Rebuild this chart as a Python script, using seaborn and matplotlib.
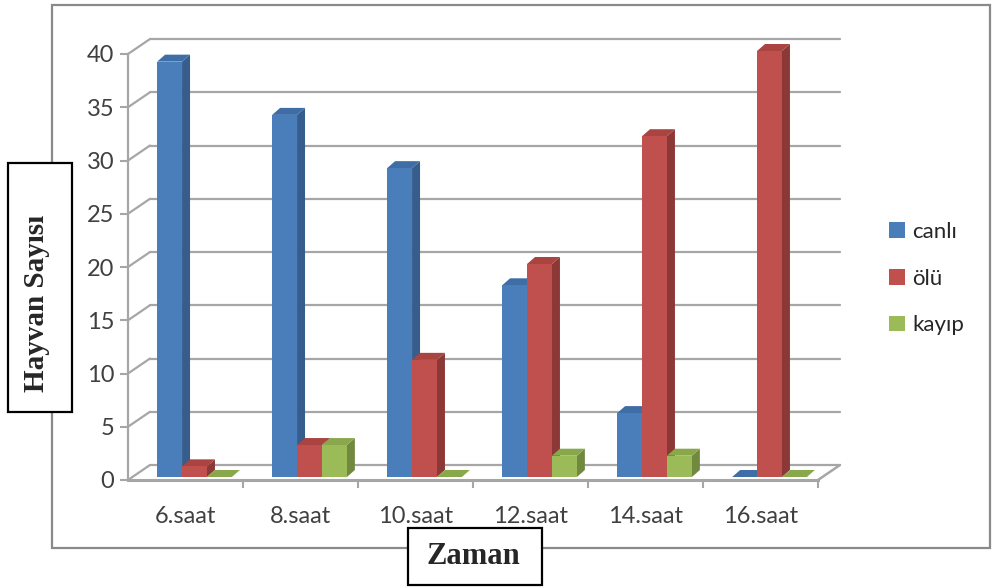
import numpy as np
import pandas as pd
import seaborn as sns
import matplotlib
matplotlib.use("Agg")
import matplotlib.pyplot as plt
from matplotlib.patches import Polygon, Rectangle
from matplotlib.lines import Line2D
from matplotlib.transforms import IdentityTransform, offset_copy
import matplotlib.colors as mcolors

# ---- data ----
zaman = ["6.saat", "8.saat", "10.saat", "12.saat", "14.saat", "16.saat"]
canli = [39, 34, 29, 18, 6, 0]
olu = [1, 3, 11, 20, 32, 40]
kayip = [0, 3, 0, 2, 2, 0]
seriler = ["canlı", "ölü", "kayıp"]
y_ticks = [0, 5, 10, 15, 20, 25, 30, 35, 40]

renkler = ["#4a7ebb", "#c0504d", "#9bbb59"]
yan_renk = ["#365d8c", "#8c3836", "#71893f"]
ust_renk = ["#3f6ea6", "#a94441", "#88a84b"]

df = pd.DataFrame({
    "Zaman": zaman * 3,
    "Sayı": canli + olu + kayip,
    "Tür": [s for s in seriler for _ in zaman],
})

sns.set_theme(style="white")
plt.rcParams["font.family"] = ["Lato", "DejaVu Sans"]

W, H = 992, 587
fig = plt.figure(figsize=(W / 100, H / 100), dpi=100)


def fx(px):
    return px / W


def fy(py):
    return 1 - py / H


ax = fig.add_axes([fx(128), fy(480), 690 / W, 426 / H])
ax.patch.set_alpha(0)
sns.barplot(data=df, x="Zaman", y="Sayı", hue="Tür", hue_order=seriler,
            order=zaman, palette=renkler, width=0.65, saturation=1,
            ax=ax, linewidth=0, edgecolor="none", errorbar=None)
ax.set_xlim(-0.5, 5.5)
ax.set_ylim(0, 40)
ax.set_xlabel("")
ax.set_ylabel("")

grid_c = "#a6a6a6"
BACK = (22, 15)   # wall depth offset in px
SHIFT = (9, 3)    # bar placement offset in px
DEPTH = (8, 7)    # bar depth in px

# back wall grid lines
tr_back = offset_copy(ax.transData, fig=fig, x=BACK[0], y=BACK[1], units="dots")
for v in y_ticks:
    ax.plot([-0.5, 5.5], [v, v], color=grid_c, lw=1.6, transform=tr_back,
            clip_on=False, zorder=0.5)
    p0 = ax.transData.transform((-0.5, v))
    p1 = p0 + np.array(BACK)
    ax.add_line(Line2D([p0[0], p1[0]], [p0[1], p1[1]], color=grid_c, lw=1.6,
                       transform=IdentityTransform(), clip_on=False, zorder=0.5))
# floor right edge
p0 = ax.transData.transform((5.5, 0))
p1 = p0 + np.array(BACK)
ax.add_line(Line2D([p0[0], p1[0]], [p0[1], p1[1]], color=grid_c, lw=1.8,
                   transform=IdentityTransform(), clip_on=False, zorder=0.6))

# bars: shift front faces, add side and top faces
tr_bar = offset_copy(ax.transData, fig=fig, x=SHIFT[0], y=SHIFT[1], units="dots")
base_cols = [np.array(mcolors.to_rgb(c)) for c in renkler]
for patch in list(ax.patches):
    fc = np.array(patch.get_facecolor()[:3])
    k = int(np.argmin([np.abs(fc - c).sum() for c in base_cols]))
    x0, w, h = patch.get_x(), patch.get_width(), patch.get_height()
    patch.set_transform(tr_bar)
    patch.set_clip_on(False)
    patch.set_zorder(2 + k + 0.2)
    s = np.array(SHIFT)
    d = np.array(DEPTH)
    br = ax.transData.transform((x0 + w, 0)) + s
    tl = ax.transData.transform((x0, h)) + s
    trr = ax.transData.transform((x0 + w, h)) + s
    side = Polygon([br, trr, trr + d, br + d], closed=True, facecolor=yan_renk[k],
                   edgecolor="none", transform=IdentityTransform(), clip_on=False,
                   zorder=2 + k + 0.1)
    top = Polygon([tl, trr, trr + d, tl + d], closed=True, facecolor=ust_renk[k],
                  edgecolor="none", transform=IdentityTransform(), clip_on=False,
                  zorder=2 + k + 0.15)
    ax.add_patch(side)
    ax.add_patch(top)

# axes styling
for sp in ["top", "right"]:
    ax.spines[sp].set_visible(False)
ax.spines["left"].set_color(grid_c)
ax.spines["left"].set_linewidth(1.6)
ax.spines["bottom"].set_color(grid_c)
ax.spines["bottom"].set_linewidth(2.2)
ax.spines["bottom"].set_zorder(1)
ax.set_yticks(y_ticks)
ax.set_yticklabels([str(v) for v in y_ticks])
ax.tick_params(axis="y", length=6, width=1.5, color=grid_c, labelsize=17,
               labelcolor="#404040", pad=4, left=True)
ax.set_xticks(range(len(zaman)))
ax.set_xticklabels(zaman)
ax.tick_params(axis="x", which="major", length=0, labelsize=17,
               labelcolor="#404040", pad=19)
ax.set_xticks([i + 0.5 for i in range(len(zaman))], minor=True)
ax.tick_params(axis="x", which="minor", length=6, width=1.5, color=grid_c,
               bottom=True)

# legend
handles, labels = ax.get_legend_handles_labels()
if ax.get_legend() is not None:
    ax.get_legend().remove()
fig.legend(handles, labels, loc="upper left", bbox_to_anchor=(fx(889), fy(222)),
           frameon=False, fontsize=16, handlelength=0.7, handleheight=0.7,
           handletextpad=0.35, labelspacing=1.2, borderpad=0, borderaxespad=0,
           labelcolor="#262626")

# outer chart border
fig.add_artist(Rectangle((fx(52), fy(548)), (990 - 52) / W, (548 - 5) / H,
                         transform=fig.transFigure, fill=False,
                         edgecolor="#8a8a8a", lw=1.6, zorder=0))

# axis title boxes
fig.add_artist(Rectangle((fx(8), fy(412)), 64 / W, 249 / H,
                         transform=fig.transFigure, facecolor="white",
                         edgecolor="black", lw=1.6, zorder=5))
fig.text(fx(37), fy(303), "Hayvan Sayısı", rotation=90, ha="center",
         va="center", fontsize=21, fontweight="bold",
         family=["Liberation Serif", "DejaVu Serif"], zorder=6)
fig.add_artist(Rectangle((fx(408), fy(585)), 134 / W, 57 / H,
                         transform=fig.transFigure, facecolor="white",
                         edgecolor="black", lw=1.6, zorder=5))
fig.text(fx(473), fy(557), "Zaman", ha="center", va="center", fontsize=22,
         fontweight="bold", family=["Liberation Serif", "DejaVu Serif"], zorder=6)

fig.savefig("out.png", dpi=100)
